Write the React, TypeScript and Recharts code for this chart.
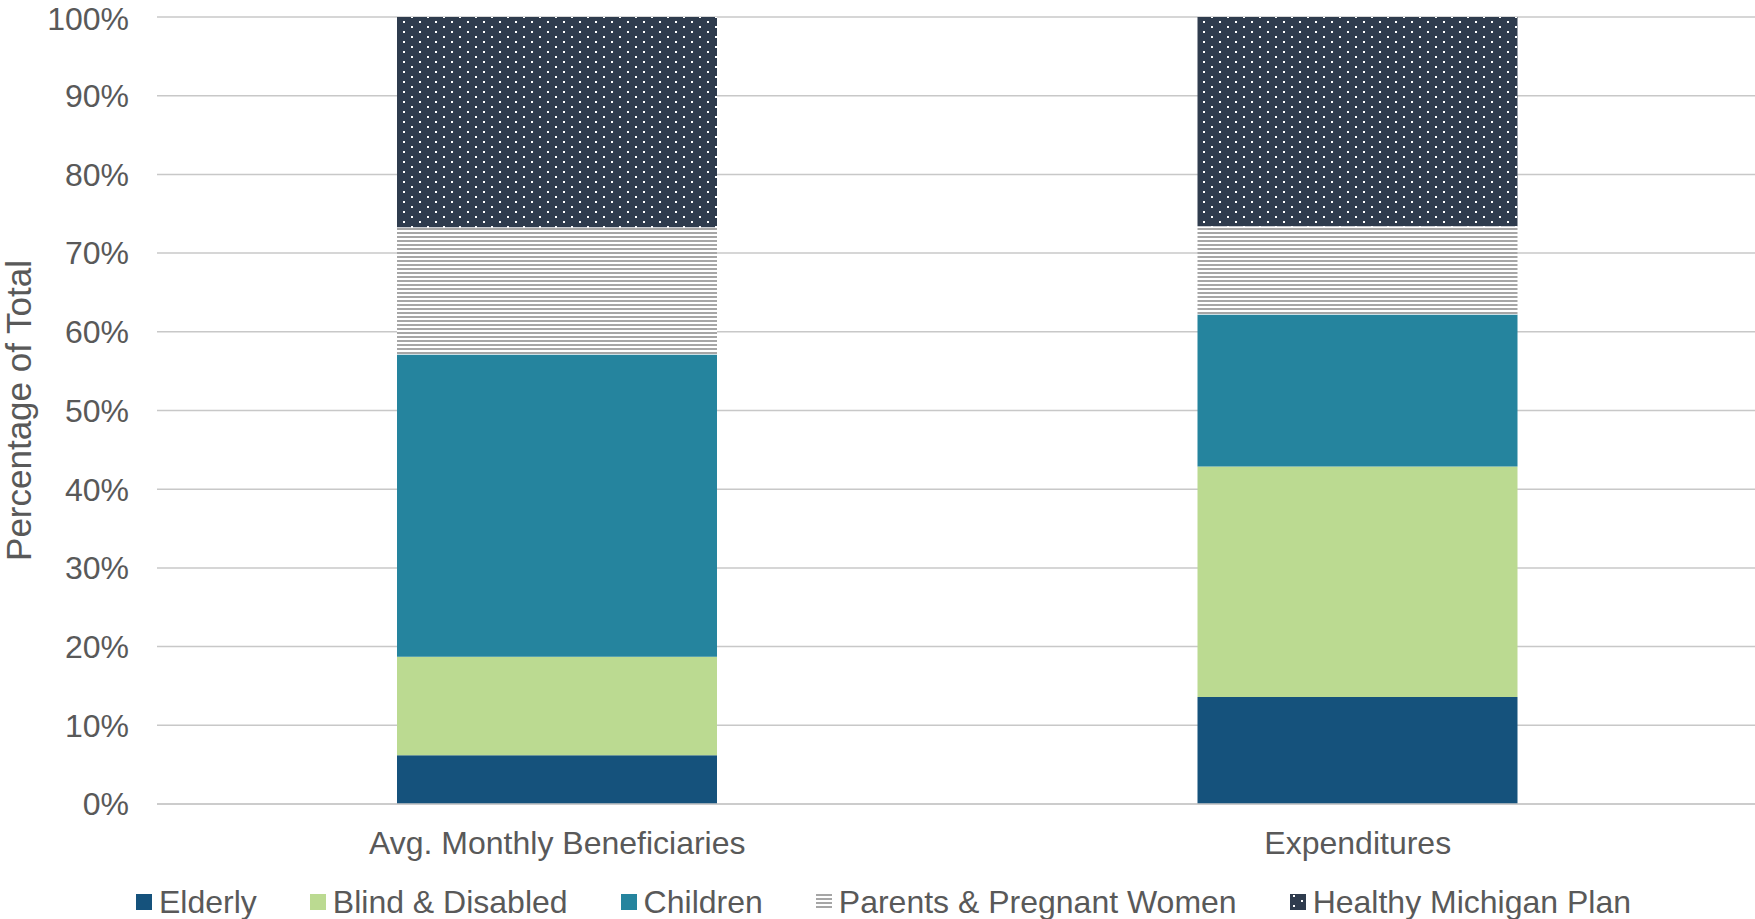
import React from 'react';
import { BarChart, Bar, XAxis, YAxis, CartesianGrid } from 'recharts';

const categories = ['Avg. Monthly Beneficiaries', 'Expenditures'];
const elderly = [6.2, 13.6];
const blindDisabled = [12.5, 29.3];
const children = [38.4, 19.3];
const parentsPregnant = [16.2, 11.2];
const healthyMichigan = [26.7, 26.6];
const yTicks = [0, 10, 20, 30, 40, 50, 60, 70, 80, 90, 100];

const seriesNames = ['Elderly', 'Blind & Disabled', 'Children', 'Parents & Pregnant Women', 'Healthy Michigan Plan'];
const seriesKeys = ['elderly', 'blind', 'children', 'parents', 'hmp'];
const seriesFills = ['#15527c', '#bbda91', '#25849e', 'url(#stripesPattern)', 'url(#dotsPattern)'];

const data = categories.map((c, i) => ({
  name: c,
  elderly: elderly[i],
  blind: blindDisabled[i],
  children: children[i],
  parents: parentsPregnant[i],
  hmp: healthyMichigan[i],
}));

const TEXT = '#595959';
const FONT = '"Liberation Sans", Arial, sans-serif';

const YLabel = (props: any) => {
  const vb = props.viewBox || { x: 0, y: 17, width: 157, height: 787 };
  const cy = vb.y + vb.height / 2;
  const x = 31;
  return (
    <text x={x} y={cy} transform={`rotate(-90, ${x}, ${cy})`} textAnchor="middle" fill={TEXT} fontSize={35} fontFamily={FONT}>
      Percentage of Total
    </text>
  );
};

export default function App() {
  return (
    <div style={{ position: 'absolute', left: 0, top: 0, width: 1755, height: 919, background: '#fff', fontFamily: FONT, overflow: 'hidden' }}>
      <svg width={0} height={0} style={{ position: 'absolute' }}>
        <defs>
          <pattern id="stripesPattern" patternUnits="userSpaceOnUse" width={4} height={4}>
            <rect x={0} y={0} width={4} height={4} fill="#ffffff" />
            <rect x={0} y={0} width={4} height={2} fill="#a6a6a6" />
          </pattern>
          <pattern id="dotsPattern" patternUnits="userSpaceOnUse" width={16} height={10}>
            <rect x={0} y={0} width={16} height={10} fill="#2f3c4e" />
            <rect x={3} y={1} width={2} height={2} fill="#ffffff" />
            <rect x={11} y={6} width={2} height={2} fill="#ffffff" />
          </pattern>
        </defs>
      </svg>
      <BarChart width={1755} height={919} data={data} margin={{ top: 17, right: -3, bottom: 55, left: 0 }}>
        <CartesianGrid horizontal vertical={false} stroke="#c8c8c8" strokeWidth={1.5} />
        <XAxis
          dataKey="name"
          height={60}
          axisLine={{ stroke: '#c8c8c8', strokeWidth: 1.5 }}
          tickLine={false}
          tickMargin={21}
          tick={{ fill: TEXT, fontSize: 32, fontFamily: FONT }}
        />
        <YAxis
          width={157}
          domain={[0, 100]}
          ticks={yTicks}
          axisLine={false}
          tickLine={false}
          tickMargin={22}
          tickFormatter={(v: number) => `${v}%`}
          tick={{ fill: TEXT, fontSize: 32, fontFamily: FONT }}
          label={<YLabel />}
        />
        {seriesKeys.map((k, i) => (
          <Bar key={k} dataKey={k} name={seriesNames[i]} stackId="a" fill={seriesFills[i]} barSize={320} isAnimationActive={false} />
        ))}
      </BarChart>
      <div style={{ position: 'absolute', left: 136, top: 886, height: 32, display: 'flex', alignItems: 'center', whiteSpace: 'nowrap' }}>
        {seriesNames.map((n, i) => (
          <div key={n} style={{ display: 'flex', alignItems: 'center', marginRight: 53 }}>
            <svg width={16} height={16} style={{ marginRight: 7, display: 'block' }}>
              <rect x={0} y={0} width={16} height={16} fill={seriesFills[i]} />
            </svg>
            <span style={{ fontSize: 32, lineHeight: '32px', color: TEXT }}>{n}</span>
          </div>
        ))}
      </div>
    </div>
  );
}
